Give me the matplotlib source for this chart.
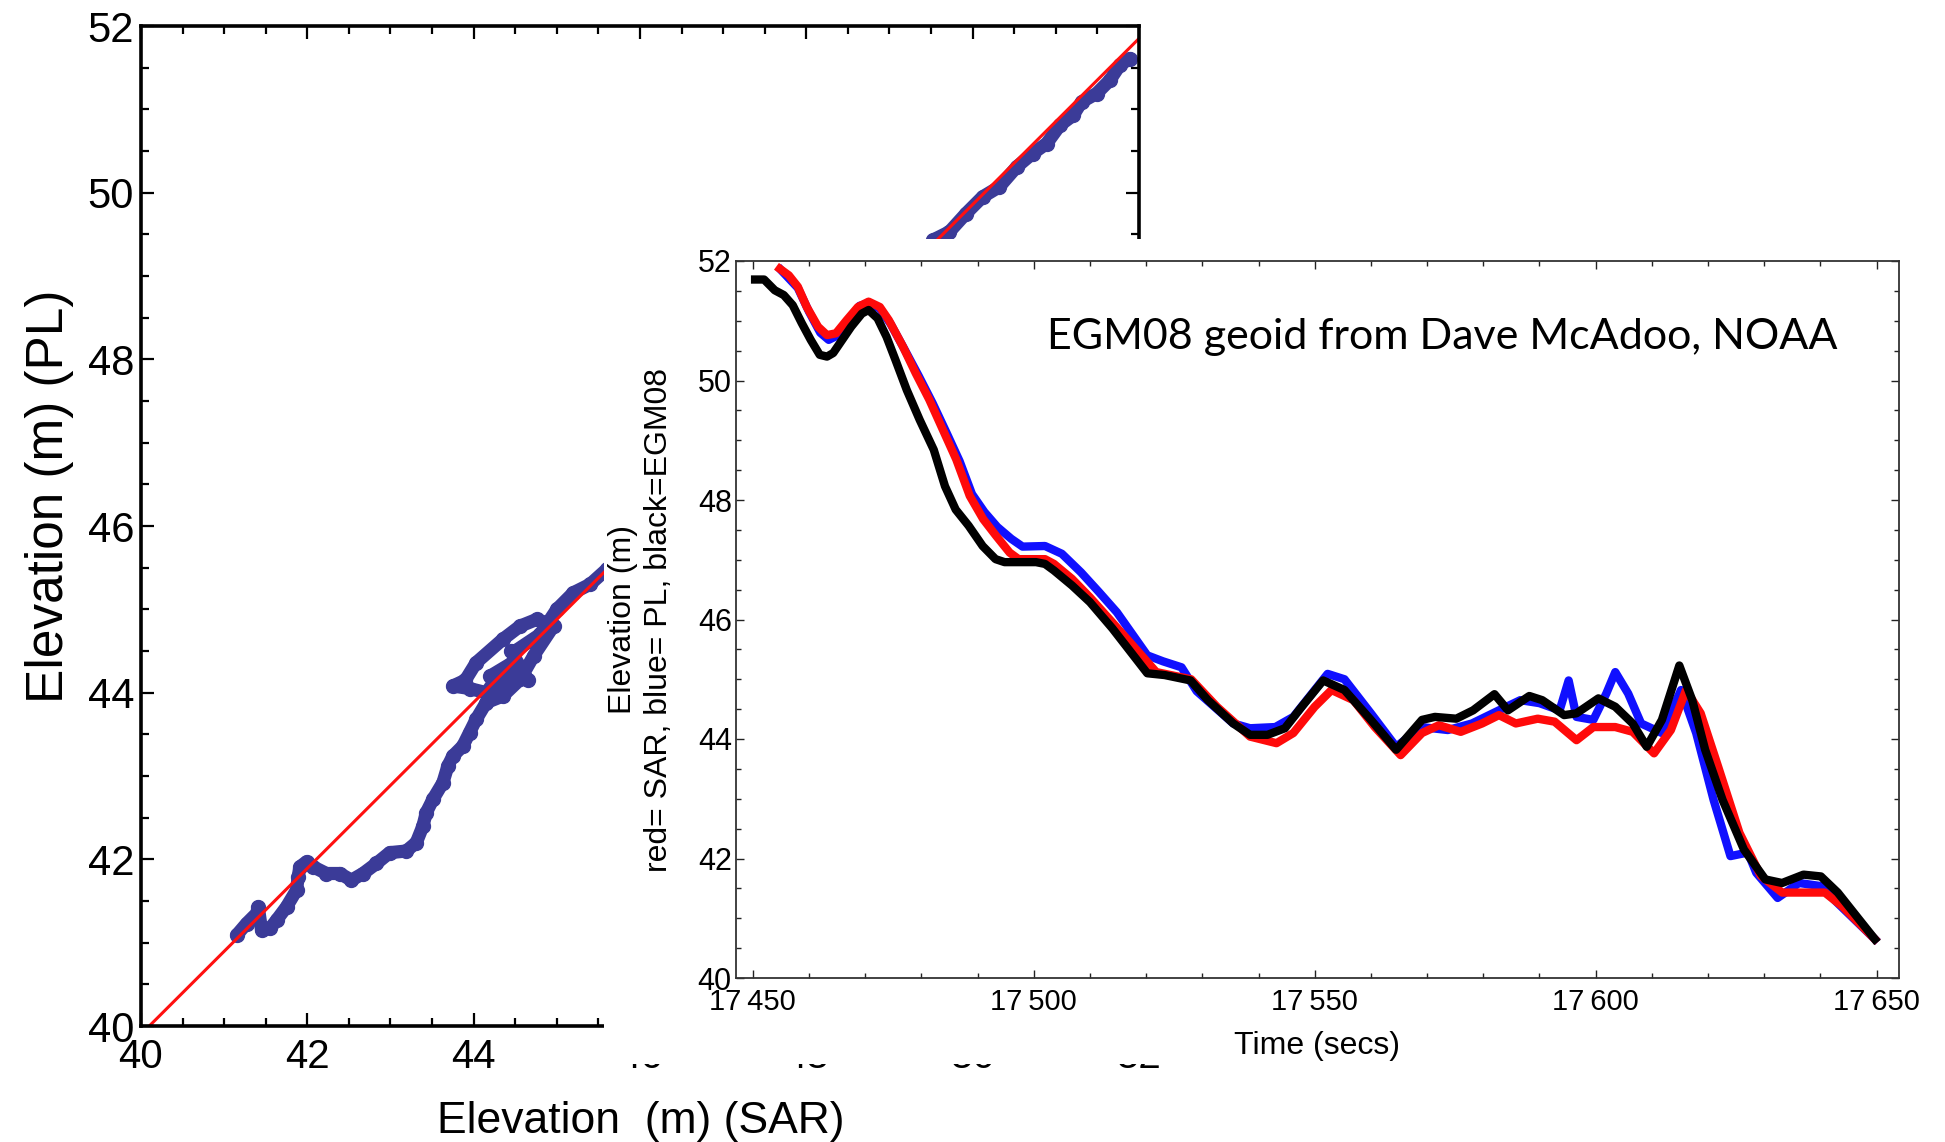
import matplotlib
matplotlib.use("Agg")
import matplotlib.pyplot as plt
from matplotlib.ticker import MultipleLocator, FuncFormatter
from matplotlib.patches import Rectangle

REG = ['Liberation Sans', 'DejaVu Sans']
NARROW = ['Liberation Sans Narrow', 'Liberation Sans', 'DejaVu Sans']

# --- scatter: PL vs SAR (background panel) ---
sc_sar_lo = [41.15, 41.27, 41.39, 41.41, 41.45, 41.55, 41.63, 41.75, 41.87, 41.89, 41.91, 41.99,
             42.07, 42.23, 42.39, 42.53, 42.67, 42.83, 42.99, 43.19, 43.31, 43.39, 43.43, 43.51,
             43.63, 43.69, 43.75, 43.87, 43.95, 44.03, 44.15, 44.35, 44.56, 44.72, 44.96, 44.76,
             44.56, 44.35, 44.03, 43.90, 43.75, 43.95, 44.15, 44.30, 44.20, 44.45, 44.30, 44.55,
             44.65, 44.45, 44.50, 44.80, 45.00, 45.20, 45.40, 45.60]
sc_pl_lo = [41.09, 41.23, 41.35, 41.43, 41.15, 41.17, 41.27, 41.43, 41.63, 41.79, 41.91, 41.97,
            41.91, 41.83, 41.83, 41.75, 41.83, 41.95, 42.08, 42.10, 42.20, 42.40, 42.56, 42.72,
            42.92, 43.12, 43.24, 43.36, 43.52, 43.68, 43.88, 43.96, 44.16, 44.44, 44.80, 44.88,
            44.80, 44.64, 44.36, 44.15, 44.08, 44.05, 44.00, 44.20, 44.20, 44.35, 44.05, 44.30,
            44.15, 44.50, 44.50, 44.70, 45.00, 45.20, 45.30, 45.48]
sc_sar_hi = [49.52, 49.72, 49.92, 50.12, 50.32, 50.53, 50.72, 50.89, 51.05, 51.21, 51.31, 51.49,
             51.65, 51.77, 51.89]
sc_pl_hi = [49.43, 49.53, 49.75, 49.95, 50.07, 50.31, 50.47, 50.59, 50.81, 50.93, 51.09, 51.19,
            51.35, 51.53, 51.61]
fit_x = [40.1, 52.0]
fit_y = [40.0, 51.85]

# --- time series (foreground panel) ---
egm_t = [17450.4, 17452.0, 17453.9, 17455.5, 17457.1, 17458.7, 17460.3, 17461.9, 17463.2, 17464.3,
         17465.9, 17467.5, 17469.4, 17470.6, 17472.2, 17473.8, 17475.4, 17477.4, 17479.7, 17482.2,
         17484.2, 17486.1, 17488.4, 17490.9, 17493.2, 17494.8, 17500.4, 17502.0, 17503.6, 17506.8,
         17510.0, 17514.0, 17520.2, 17523.3, 17527.9, 17531.0, 17535.5, 17538.5, 17541.6, 17544.7,
         17547.7, 17551.5, 17555.3, 17560.0, 17564.5, 17569.1, 17571.4, 17575.2, 17578.2, 17582.0,
         17584.4, 17588.2, 17590.5, 17594.4, 17596.6, 17600.5, 17603.5, 17606.6, 17609.1, 17611.8,
         17614.9, 17617.2, 17619.5, 17622.6, 17626.4, 17630.2, 17633.2, 17637.0, 17640.1, 17643.1,
         17646.9, 17649.7]
egm_v = [51.69, 51.69, 51.51, 51.43, 51.26, 50.96, 50.68, 50.43, 50.40, 50.46,
         50.68, 50.90, 51.12, 51.18, 51.04, 50.73, 50.34, 49.84, 49.34, 48.84,
         48.23, 47.84, 47.57, 47.23, 47.01, 46.96, 46.96, 46.93, 46.82, 46.57,
         46.29, 45.85, 45.10, 45.07, 44.98, 44.65, 44.26, 44.07, 44.07, 44.18,
         44.54, 44.98, 44.82, 44.32, 43.82, 44.32, 44.37, 44.34, 44.48, 44.75,
         44.48, 44.72, 44.65, 44.40, 44.43, 44.68, 44.54, 44.26, 43.87, 44.32,
         45.23, 44.65, 43.82, 42.98, 42.15, 41.65, 41.59, 41.73, 41.70, 41.43,
         40.98, 40.65]

sar_t = [17454.8, 17456.4, 17458.0, 17459.6, 17461.6, 17463.2, 17464.8, 17466.7, 17468.7, 17470.6,
         17472.6, 17474.2, 17476.7, 17479.0, 17481.4, 17483.8, 17486.2, 17488.6, 17491.0, 17493.3,
         17495.7, 17497.3, 17502.0, 17503.6, 17506.8, 17510.0, 17514.0, 17521.8, 17528.0, 17532.6,
         17538.5, 17543.2, 17546.2, 17550.0, 17553.0, 17556.9, 17560.7, 17565.3, 17569.1, 17572.1,
         17576.0, 17579.8, 17582.8, 17585.8, 17589.7, 17592.7, 17596.6, 17599.6, 17603.5, 17606.6,
         17610.4, 17613.4, 17616.1, 17618.7, 17621.8, 17625.6, 17629.4, 17633.2, 17640.8, 17643.9,
         17649.7]
sar_v = [51.87, 51.76, 51.57, 51.23, 50.90, 50.76, 50.79, 51.01, 51.23, 51.32,
         51.23, 51.01, 50.57, 50.12, 49.68, 49.18, 48.68, 48.07, 47.68, 47.40,
         47.12, 47.01, 47.01, 46.93, 46.68, 46.37, 45.95, 45.12, 45.00, 44.54,
         44.04, 43.93, 44.10, 44.54, 44.82, 44.65, 44.20, 43.73, 44.10, 44.23,
         44.12, 44.26, 44.40, 44.26, 44.34, 44.29, 43.98, 44.20, 44.20, 44.12,
         43.76, 44.15, 44.82, 44.43, 43.54, 42.43, 41.71, 41.43, 41.43, 41.20,
         40.65]

pl_t = [17455.0, 17458.0, 17460.0, 17462.0, 17463.5, 17465.0, 17467.0, 17469.0, 17470.8, 17472.6,
        17474.5, 17477.0, 17479.5, 17482.0, 17484.5, 17486.8, 17489.0, 17491.2, 17493.5, 17496.0,
        17498.0, 17502.0, 17505.0, 17508.4, 17511.6, 17514.8, 17520.2, 17523.0, 17526.3, 17529.0,
        17535.5, 17538.5, 17543.0, 17546.2, 17552.3, 17555.3, 17560.0, 17564.5, 17569.0, 17573.7,
        17578.0, 17582.8, 17586.6, 17590.0, 17593.6, 17595.2, 17596.6, 17599.6, 17601.9, 17603.5,
        17605.8, 17608.1, 17611.8, 17615.2, 17617.9, 17621.0, 17624.0, 17627.1, 17628.6, 17632.4,
        17636.2, 17640.0, 17643.0, 17649.7]
pl_v = [51.85, 51.55, 51.15, 50.80, 50.68, 50.75, 51.00, 51.25, 51.30, 51.20,
        50.95, 50.52, 50.08, 49.62, 49.12, 48.65, 48.10, 47.80, 47.55, 47.35,
        47.22, 47.23, 47.10, 46.79, 46.46, 46.12, 45.40, 45.30, 45.20, 44.80,
        44.26, 44.18, 44.20, 44.37, 45.09, 45.00, 44.43, 43.87, 44.20, 44.15,
        44.26, 44.48, 44.65, 44.60, 44.48, 44.98, 44.37, 44.32, 44.76, 45.12,
        44.76, 44.26, 44.10, 44.82, 44.10, 42.98, 42.04, 42.10, 41.76, 41.34,
        41.59, 41.54, 41.26, 40.65]

W, H = 1945, 1142
fig = plt.figure(figsize=(W / 100, H / 100), dpi=100)
fig.patch.set_facecolor('white')

def fx(px):
    return px / W

def fy(py):
    return 1 - py / H

# background scatter panel
ax1 = fig.add_axes([fx(141), fy(1026), (1139 - 141) / W, (1026 - 26) / H], zorder=0)
dot = '#3b3b98'
for xs, ys in [(sc_sar_lo, sc_pl_lo), (sc_sar_hi, sc_pl_hi)]:
    ax1.plot(xs, ys, '-o', color=dot, lw=9.5, ms=10, mec=dot,
             solid_capstyle='round', solid_joinstyle='round')
ax1.plot(fit_x, fit_y, color='#ff1010', lw=2.2)
ax1.set_xlim(40, 52)
ax1.set_ylim(40, 52)
ax1.xaxis.set_major_locator(MultipleLocator(2))
ax1.xaxis.set_minor_locator(MultipleLocator(0.5))
ax1.yaxis.set_major_locator(MultipleLocator(2))
ax1.yaxis.set_minor_locator(MultipleLocator(0.5))
ax1.tick_params(which='both', direction='in', top=True, right=True, width=1.6, color='black')
ax1.tick_params(which='major', length=9.5)
ax1.tick_params(which='minor', length=5.8)
ax1.tick_params(axis='x', pad=9)
ax1.tick_params(axis='y', pad=5)
for s in ax1.spines.values():
    s.set_linewidth(2.6)
for lb in ax1.get_xticklabels():
    lb.set_fontfamily(NARROW)
    lb.set_fontsize(29)
for lb in ax1.get_yticklabels():
    lb.set_fontfamily(REG)
    lb.set_fontsize(30)

fig.text(fx(50), fy(496), 'Elevation (m) (PL)', rotation=90, ha='center', va='center',
         fontsize=37, family=REG)
fig.text(fx(641), fy(1121), 'Elevation  (m) (SAR)', ha='center', va='center',
         fontsize=32, family=NARROW)

# white backing of the pasted time-series panel
fig.add_artist(Rectangle((fx(604), fy(1064)), (W - 604) / W, (1064 - 239) / H,
                         transform=fig.transFigure, facecolor='white', edgecolor='none',
                         zorder=1))

# foreground time-series panel
ax2 = fig.add_axes([fx(736), fy(978), (1899 - 736) / W, (978 - 261) / H], zorder=2)
ax2.plot(pl_t, pl_v, color='#1010ff', lw=6, solid_joinstyle='round')
ax2.plot(sar_t, sar_v, color='#ff0a0a', lw=6, solid_joinstyle='round')
ax2.plot(egm_t, egm_v, color='black', lw=6, solid_joinstyle='round')
ax2.set_xlim(17447, 17654)
ax2.set_ylim(40, 52)
ax2.xaxis.set_major_locator(MultipleLocator(50))
ax2.xaxis.set_minor_locator(MultipleLocator(10))
ax2.yaxis.set_major_locator(MultipleLocator(2))
ax2.yaxis.set_minor_locator(MultipleLocator(0.5))
ax2.xaxis.set_major_formatter(FuncFormatter(lambda v, p: f"{int(v) // 1000}\u2009{int(v) % 1000:03d}"))
ax2.tick_params(which='both', direction='in', top=True, right=True, width=1.0, color='#222222')
ax2.tick_params(which='major', length=6)
ax2.tick_params(which='minor', length=3.5)
ax2.tick_params(axis='x', pad=7)
ax2.tick_params(axis='y', pad=3)
for s in ax2.spines.values():
    s.set_linewidth(1.3)
    s.set_color('#333333')
for lb in ax2.get_xticklabels():
    lb.set_fontfamily(NARROW)
    lb.set_fontsize(21)
for lb in ax2.get_yticklabels():
    lb.set_fontfamily(NARROW)
    lb.set_fontsize(22)

ax2.text(0.607, 0.894, 'EGM08 geoid from Dave McAdoo, NOAA', transform=ax2.transAxes,
         ha='center', va='center', fontsize=31, family=['Lato', 'DejaVu Sans'])

fig.text(fx(641), fy(620), 'Elevation (m)\nred= SAR, blue= PL, black=EGM08', rotation=90,
         ha='center', va='center', multialignment='center', fontsize=23, family=REG,
         linespacing=1.25, zorder=3)
fig.text(fx(1317), fy(1046), 'Time (secs)', ha='center', va='center', fontsize=23,
         family=NARROW, zorder=3)

fig.savefig('out.png', dpi=100)
